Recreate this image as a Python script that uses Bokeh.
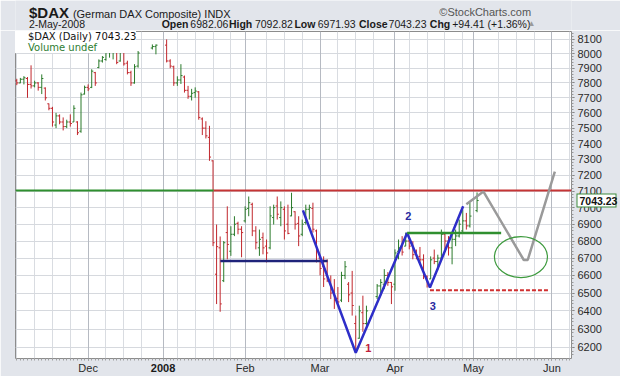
import numpy as np
import pandas as pd
from bokeh.plotting import figure
from bokeh.layouts import column
from bokeh.models import (Range1d, FixedTicker, NumeralTickFormatter, Label, Legend,
                          LegendItem, Grid, ColumnDataSource, LinearAxis, LogAxis)
from bokeh.embed import file_html
from bokeh.resources import INLINE

# ---------------- data ----------------
START = "2007-11-05"          # first weekday slot shown
LAST = "2008-05-02"           # last bar
CAL_END = "2008-06-30"
HOLIDAYS = ["2007-12-24", "2007-12-25", "2007-12-26", "2007-12-31", "2008-01-01",
            "2008-03-21", "2008-03-24", "2008-05-01"]

OPEN = [7815, 7800, 7825, 7830, 7790, 7780, 7800, 7770, 7765, 7660,
        7630, 7520, 7580, 7540, 7510, 7540, 7540, 7540, 7480, 7725,
        7770, 7770, 7870, 7905, 7950, 7960, 8010, 8040, 8045, 7950,
        8010, 7935, 7870, 7800, 7915,
        8040, 8050,
        8060, 7950, 7910, 7800, 7820, 7840, 7750, 7710, 7735, 7740,
        7560, 7500, 7440, 7290, 6607, 6760, 6570, 6850, 6740, 6840,
        6905, 6870, 6920, 6995, 7020, 6860, 6760, 6820, 6770, 6760,
        6940, 7010, 6940, 6990, 6900, 6950, 6975, 6905, 6840, 6910,
        6990, 6995, 6860, 6700, 6650, 6600, 6560, 6500, 6470, 6460,
        6600, 6550, 6500, 6330, 6250, 6390, 6330,
        6480, 6540, 6550, 6600, 6560, 6550, 6740, 6770, 6770, 6800,
        6780, 6720, 6710, 6690, 6595, 6580, 6700, 6680, 6700, 6840,
        6800, 6760, 6810, 6830, 6860, 6920, 6890,
        6982.06]
HIGH = [7828, 7834, 7846, 7840, 7920, 7815, 7805, 7858, 7770, 7662,
        7640, 7600, 7590, 7570, 7555, 7590, 7650, 7545, 7735, 7782,
        7790, 7893, 7875, 7961, 7984, 8019, 8053, 8065, 8065, 8030,
        8030, 7952, 7883, 7928, 8019,
        8065, 8065,
        8100, 7962, 7918, 7845, 7928, 7850, 7780, 7760, 7770, 7745,
        7570, 7545, 7515, 7294, 6898, 6827, 6800, 7008, 6888, 6948,
        6915, 6888, 7008, 7068, 7030, 6888, 6868, 6850, 6809, 7008,
        7018, 7068, 7038, 7008, 7018, 7091, 6978, 6948, 6928, 7018,
        7018, 7030, 6868, 6710, 6710, 6693, 6600, 6579, 6534, 6621,
        6683, 6562, 6626, 6374, 6429, 6485, 6429,
        6551, 6579, 6636, 6619, 6562, 6751, 6809, 6829, 6850, 6809,
        6799, 6750, 6765, 6722, 6600, 6710, 6750, 6720, 6868, 6850,
        6829, 6839, 6868, 6928, 6988, 6968, 7030,
        7092.82]
LOW = [7785, 7798, 7790, 7700, 7762, 7770, 7748, 7725, 7682, 7617,
       7510, 7500, 7525, 7485, 7500, 7510, 7540, 7455, 7470, 7722,
       7745, 7765, 7780, 7900, 7939, 7952, 7973, 7961, 7928, 7945,
       7918, 7858, 7780, 7795, 7904,
       8030, 7996,
       7940, 7900, 7780, 7780, 7793, 7735, 7693, 7682, 7700, 7555,
       7455, 7433, 7290, 6770, 6438, 6395, 6562, 6693, 6713, 6829,
       6840, 6705, 6910, 6948, 6829, 6751, 6713, 6722, 6675, 6751,
       6898, 6928, 6888, 6809, 6840, 6948, 6868, 6770, 6829, 6898,
       6928, 6850, 6675, 6600, 6534, 6562, 6466, 6411, 6440, 6449,
       6579, 6449, 6374, 6180, 6247, 6285, 6318,
       6466, 6485, 6522, 6541, 6438, 6513, 6693, 6715, 6770, 6751,
       6693, 6693, 6665, 6579, 6531, 6579, 6665, 6630, 6693, 6751,
       6715, 6664, 6770, 6821, 6850, 6868, 6880,
       6971.93]
CLOSE = [7800, 7825, 7835, 7790, 7780, 7800, 7770, 7830, 7700, 7630,
         7540, 7580, 7540, 7510, 7540, 7530, 7630, 7470, 7720, 7770,
         7760, 7880, 7800, 7950, 7975, 8010, 8040, 8050, 7940, 8010,
         7930, 7870, 7800, 7910, 8005,
         8050, 8060,
         7950, 7915, 7800, 7820, 7850, 7750, 7710, 7730, 7745, 7570,
         7500, 7450, 7314, 6790, 6767, 6439, 6790, 6780, 6840, 6900,
         6870, 6850, 6990, 7030, 6860, 6790, 6810, 6760, 6730, 6950,
         7000, 6960, 7000, 6860, 6845, 7000, 6900, 6830, 6900, 6990,
         7000, 6870, 6748, 6640, 6580, 6570, 6500, 6460, 6450, 6600,
         6650, 6490, 6430, 6190, 6400, 6330, 6400,
         6540, 6560, 6600, 6560, 6535, 6730, 6760, 6735, 6800, 6770,
         6720, 6705, 6690, 6600, 6560, 6690, 6680, 6700, 6840, 6800,
         6760, 6810, 6830, 6900, 6920, 6890, 6948.82,
         7043.23]

Y_TICKS = list(range(6200, 8101, 100))

# annotation geometry (x in weekday-slot units, y in index points)
RESIST = 7105
RESIST_SPLIT = 55.2
NECK_X = [57.05, 87.1]
NECK_Y = 6683
V_X = [80.2, 95.0, 109.4, 115.8, 125.1]
V_Y = [6983, 6172, 6848, 6531, 7008]
BRK_X = [109.4, 135.75]
BRK_Y = 6848
SUP_X = [115.8, 149.4]
SUP_Y = 6516
PROJ_X = [126.0, 130.8, 142.1, 143.2, 150.8]
PROJ_Y = [7021, 7098, 6689, 6689, 7222]
CIRCLE = (141.3, 6706)
PIVOTS = [("1", 98.5, 6195, "#c0203a"), ("2", 109.7, 6950, "#2a2aa0"), ("3", 116.6, 6429, "#2a2aa0")]

# ---------------- calendar ----------------
slots = pd.bdate_range(START, CAL_END)
slot_of = {d: i for i, d in enumerate(slots)}
hol = set(pd.to_datetime(HOLIDAYS))
trading = [d for d in slots if d <= pd.Timestamp(LAST) and d not in hol]
assert len(trading) == len(OPEN) == len(HIGH) == len(LOW) == len(CLOSE)
xs = [slot_of[d] for d in trading]

month_slots = [i for i, d in enumerate(slots) if i > 0 and d.month != slots[i - 1].month]
month_labels = {}
for i in month_slots:
    d = slots[i]
    month_labels[i] = "" if d.month == 1 else d.strftime("%b")
jan_slot = [i for i in month_slots if slots[i].month == 1][0]
mondays = [i for i, d in enumerate(slots)
           if d.weekday() == 0 and min(abs(i - m) for m in month_slots) > 2]

GREEN = "#2b7b2b"
RED = "#c1272d"
colors = []
for k in range(len(CLOSE)):
    ref = CLOSE[k - 1] if k > 0 else OPEN[k]
    colors.append(GREEN if CLOSE[k] >= ref else RED)

src = ColumnDataSource(dict(
    x=xs, xl=[x - 0.45 for x in xs], xr=[x + 0.45 for x in xs],
    o=OPEN, h=HIGH, l=LOW, c=CLOSE, color=colors))

BG = "#e2e5eb"
FONT = "Liberation Sans"
W = 620
HH = 30
X0, X1 = -0.36, 155.47

# ---------------- header ----------------
hdr = figure(width=W, height=HH, x_range=Range1d(0, W), y_range=Range1d(HH, 0),
             x_axis_type=None, y_axis_type=None, toolbar_location=None,
             output_backend="svg", min_border=0, outline_line_color=None,
             background_fill_color=BG, border_fill_color=BG)
hdr.grid.visible = False

def hl(x, y, text, size="10.5px", bold=False, color="#1a1a1a", align="left"):
    hdr.add_layout(Label(x=x, y=y, text=text, text_font=FONT, text_font_size=size,
                         text_font_style="bold" if bold else "normal", text_color=color,
                         text_align=align, text_baseline="middle"))

hl(15, 12, "$DAX", size="15px", bold=True)
hl(64, 13.5, "(German DAX Composite) INDX", size="11px")
hl(575, 11, "\u00a9StockCharts.com", size="11px", color="#555555", align="right")
hl(15, 23.5, "2-May-2008")
row2 = [("Open", 163, True), ("6982.06", 195, False), ("High", 238, True),
        ("7092.82", 267, False), ("Low", 311, True), ("6971.93", 337, False),
        ("Close", 383, True), ("7043.23", 416, False), ("Chg", 462, True),
        ("+94.41 (+1.36%)", 487, False)]
for t, x, b in row2:
    hl(x, 23.5, t, bold=b)
hl(571, 23, "\u25b2", size="8px", color="#9a9a9a")

# ---------------- main chart ----------------
p = figure(width=W, height=376 - HH, x_range=Range1d(X0, X1), y_range=Range1d(6141, 8156),
           y_axis_type="log", y_axis_location="right", toolbar_location=None,
           output_backend="svg", min_border_left=15, min_border_right=44,
           min_border_top=1, min_border_bottom=18,
           background_fill_color="white", border_fill_color=BG,
           outline_line_color="#8c8c8c")

p.ygrid.ticker = FixedTicker(ticks=Y_TICKS)
p.ygrid.grid_line_color = "#d6d9de"
p.xgrid.ticker = FixedTicker(ticks=mondays)
p.xgrid.grid_line_color = "#d9dce1"
p.add_layout(Grid(dimension=0, ticker=FixedTicker(ticks=month_slots),
                  grid_line_color="#b6bac2"))

ya = p.yaxis[0]
ya.ticker = FixedTicker(ticks=Y_TICKS, minor_ticks=list(range(6140, 8161, 20)))
ya.formatter = NumeralTickFormatter(format="0")
ya.major_label_text_font = FONT
ya.major_label_text_font_size = "11px"
ya.major_label_text_color = "#2a2a2a"
ya.major_label_standoff = 3
ya.major_tick_out = 3
ya.major_tick_in = 0
ya.minor_tick_out = 2
ya.minor_tick_in = 0
ya.axis_line_color = None
ya.major_tick_line_color = "#777777"
ya.minor_tick_line_color = "#999999"

xa = p.xaxis[0]
xa.ticker = FixedTicker(ticks=month_slots, minor_ticks=list(range(0, 156)))
xa.major_label_overrides = month_labels
xa.major_label_text_font = FONT
xa.major_label_text_font_size = "11px"
xa.major_label_text_color = "#2a2a2a"
xa.major_label_standoff = 1
xa.major_tick_out = 2
xa.major_tick_in = 0
xa.minor_tick_out = 2
xa.minor_tick_in = 0
xa.axis_line_color = None
xa.major_tick_line_color = "#777777"
xa.minor_tick_line_color = "#a0a0a0"

# bold year label on its own axis, pulled up into the month row
ax_year = LinearAxis(ticker=FixedTicker(ticks=[jan_slot], minor_ticks=[]),
                     major_label_overrides={jan_slot: "2008"},
                     major_label_text_font=FONT, major_label_text_font_size="11px",
                     major_label_text_font_style="bold", major_label_text_color="#1a1a1a",
                     major_label_standoff=-13, major_tick_out=0, major_tick_in=0,
                     major_tick_line_color=None, minor_tick_line_color=None,
                     axis_line_color=None)
p.add_layout(ax_year, "below")

# last-price tag: green tick band as the frame, white minor band as the fill, bold label
L_AX = 606
ax_last = LogAxis(ticker=FixedTicker(ticks=[CLOSE[-1]], minor_ticks=[CLOSE[-1]]),
                  formatter=NumeralTickFormatter(format="0.00"),
                  major_label_text_font=FONT, major_label_text_font_size="10.5px",
                  major_label_text_font_style="bold", major_label_text_color="#111111",
                  major_tick_in=L_AX - 578, major_tick_out=618 - L_AX,
                  major_tick_line_width=14, major_tick_line_color="#3d8a3d",
                  minor_tick_in=L_AX - 579, minor_tick_out=617 - L_AX,
                  minor_tick_line_width=12, minor_tick_line_color="white",
                  major_label_standoff=581 - 618, axis_line_color=None)
p.add_layout(ax_last, "right")

# OHLC bars
p.segment(x0="x", y0="l", x1="x", y1="h", line_color="color", line_width=1, source=src)
p.segment(x0="xl", y0="o", x1="x", y1="o", line_color="color", line_width=1, source=src)
p.segment(x0="x", y0="c", x1="xr", y1="c", line_color="color", line_width=1, source=src)

# annotations
p.line([X0, RESIST_SPLIT], [RESIST, RESIST], line_color="#2f8f2f", line_width=2)
p.line([RESIST_SPLIT, X1], [RESIST, RESIST], line_color="#c53434", line_width=2)
p.line(NECK_X, [NECK_Y, NECK_Y], line_color="#1f237a", line_width=2.5)
p.line(V_X, V_Y, line_color="#2e2ec8", line_width=2.5)
p.line(BRK_X, [BRK_Y, BRK_Y], line_color="#2f8f2f", line_width=2.5)
p.line(SUP_X, [SUP_Y, SUP_Y], line_color="#d03030", line_width=2, line_dash="4 2")
p.line(PROJ_X, PROJ_Y, line_color="#9a9a9a", line_width=2.5)
p.ellipse(x=[CIRCLE[0]], y=[CIRCLE[1]], width=53, height=41, width_units="screen",
          height_units="screen", fill_alpha=0, line_color="#3d9a3d", line_width=1.2)
for t, x, y, c in PIVOTS:
    p.add_layout(Label(x=x, y=y, text=t, text_font=FONT, text_font_size="11px",
                       text_font_style="bold", text_color=c, text_align="center",
                       text_baseline="middle"))

# legend
r_icon = p.line(x=[], y=[], line_color=GREEN, line_width=2)
r_vol = p.vbar(x=[], top=[], width=1, fill_color="#3c8c3c", line_color="#3c8c3c")
r_blank = p.scatter(x=[], y=[], alpha=0)
common = dict(location="top_left", margin=0, padding=1, spacing=0,
              label_text_font="DejaVu Sans", label_text_font_size="10px",
              glyph_width=9, glyph_height=9, label_height=11, label_standoff=4,
              border_line_color=None)
leg1 = Legend(items=[LegendItem(label="$DAX (Daily) %.2f" % CLOSE[-1], renderers=[r_icon]),
                     LegendItem(label=" ", renderers=[r_blank])],
              background_fill_color="white", background_fill_alpha=1.0,
              label_text_color="#111111", **common)
leg2 = Legend(items=[LegendItem(label=" ", renderers=[r_blank]),
                     LegendItem(label="Volume undef", renderers=[r_vol])],
              background_fill_alpha=0, label_text_color="#2e7d32", **common)
leg1.level = "underlay"
leg2.level = "underlay"
p.add_layout(leg1)
p.add_layout(leg2)

layout = column(hdr, p)
open("out.html", "w").write(file_html(layout, INLINE))
